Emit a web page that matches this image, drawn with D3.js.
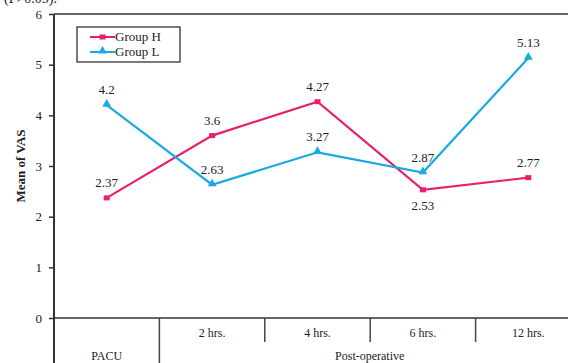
<!DOCTYPE html>
<html>
<head>
<meta charset="utf-8">
<script src="https://cdn.jsdelivr.net/npm/d3@7"></script>
<style>
  body { margin: 0; background: #fff; }
  svg text { font-family: "Times New Roman", "Liberation Serif", "DejaVu Serif", serif; fill: #222; }
</style>
</head>
<body>
<div class="graph"></div>
<script>
// datos
const categories = ['PACU', '2 hrs.', '4 hrs.', '6 hrs.', '12 hrs.']
const groupH = [2.37, 3.6, 4.27, 2.53, 2.77]
const groupL = [4.2, 2.63, 3.27, 2.87, 5.13]
// posicion de la etiqueta: -1 arriba, 1 abajo
const labelPosH = [-1, -1, -1, 1, -1]
const labelPosL = [-1, -1, -1, -1, -1]
const yTicks = [0, 1, 2, 3, 4, 5, 6]

const colorH = '#ea1e6d', colorL = '#1aa9e1'

let width = 568, height = 363
const mLeft = 54, mTop = 14, mBottom = 318

const svg = d3.select('.graph')
              .append('svg')
              .attr('width', width)
              .attr('height', height)

// texto cortado de arriba
svg.append('text').text('(P>0.05).')
  .attr('x', 4).attr('y', 3)
  .style('font-size', '14px')

const xScale = d3.scaleBand().domain(categories).range([mLeft, 581])
const yScale = d3.scaleLinear().domain([0, 6]).range([mBottom, mTop])

// borde superior
svg.append('line')
  .attr('x1', mLeft).attr('x2', width)
  .attr('y1', mTop).attr('y2', mTop)
  .attr('stroke', '#333').attr('stroke-width', 1.5)

// eje y
const yAxis = d3.axisLeft(yScale).tickValues(yTicks).tickFormat(d3.format('d')).tickSize(5).tickPadding(7)
const gy = svg.append('g').attr('transform', `translate(${mLeft},0)`).call(yAxis)
gy.attr('font-family', null)
gy.select('.domain').remove()
gy.selectAll('.tick line').attr('stroke', '#333').attr('stroke-width', 1.5)
gy.selectAll('.tick text').style('font-size', '13px').attr('fill', '#222')

svg.append('line')
  .attr('x1', mLeft).attr('x2', mLeft)
  .attr('y1', mTop).attr('y2', height)
  .attr('stroke', '#333').attr('stroke-width', 2)

// eje x
svg.append('line')
  .attr('x1', mLeft).attr('x2', width)
  .attr('y1', mBottom).attr('y2', mBottom)
  .attr('stroke', '#333').attr('stroke-width', 1.5)

categories.slice(1).forEach((c, i) => {
  svg.append('line')
    .attr('x1', xScale(c)).attr('x2', xScale(c))
    .attr('y1', mBottom).attr('y2', i === 0 ? height : mBottom + 24)
    .attr('stroke', '#444').attr('stroke-width', 1.5)
})

categories.forEach((c, i) => {
  svg.append('text').text(c)
    .attr('x', xScale(c) + xScale.bandwidth() / 2)
    .attr('y', i === 0 ? 360 : 337)
    .attr('text-anchor', 'middle')
    .style('font-size', '12px')
})

svg.append('text').text('Post-operative')
  .attr('x', (xScale(categories[1]) + width + 12) / 2)
  .attr('y', 360)
  .attr('text-anchor', 'middle')
  .style('font-size', '12px')

// titulo eje y
svg.append('text').text('Mean of VAS')
  .attr('transform', `translate(25,${(mTop + mBottom) / 2}) rotate(-90)`)
  .attr('text-anchor', 'middle')
  .style('font-size', '13px')
  .style('font-weight', 'bold')

const cx = c => xScale(c) + xScale.bandwidth() / 2
const line = d3.line().x((d, i) => cx(categories[i])).y(d => yScale(d))

const triangle = d3.symbol().type(d3.symbolTriangle).size(34)

function drawSeries(values, color, marker, pos) {
  svg.append('path').datum(values)
    .attr('d', line)
    .attr('fill', 'none')
    .attr('stroke', color)
    .attr('stroke-width', 2.2)

  const g = svg.append('g')
  values.forEach((v, i) => {
    const x = cx(categories[i]), y = yScale(v)
    if (marker === 'square') {
      g.append('rect').attr('x', x - 3).attr('y', y - 2.5).attr('width', 6).attr('height', 5).attr('fill', color)
    } else {
      g.append('path').attr('d', triangle).attr('transform', `translate(${x},${y - 1})`).attr('fill', color)
    }
    svg.append('text').text(v)
      .attr('x', x)
      .attr('y', pos[i] < 0 ? y - 11 : y + 20)
      .attr('text-anchor', 'middle')
      .style('font-size', '13px')
  })
}

drawSeries(groupH, colorH, 'square', labelPosH)
drawSeries(groupL, colorL, 'triangle', labelPosL)

// leyenda
const legend = svg.append('g')
legend.append('rect')
  .attr('x', 77).attr('y', 27).attr('width', 103).attr('height', 35)
  .attr('fill', '#fff').attr('stroke', '#333').attr('stroke-width', 1.3)

const items = [['Group H', colorH, 'square'], ['Group L', colorL, 'triangle']]
items.forEach((it, i) => {
  const y = 37 + i * 15
  legend.append('line').attr('x1', 90).attr('x2', 115).attr('y1', y).attr('y2', y)
    .attr('stroke', it[1]).attr('stroke-width', 2)
  if (it[2] === 'square') {
    legend.append('rect').attr('x', 99.5).attr('y', y - 2.5).attr('width', 6).attr('height', 5).attr('fill', it[1])
  } else {
    legend.append('path').attr('d', triangle).attr('transform', `translate(102.5,${y - 1})`).attr('fill', it[1])
  }
  legend.append('text').text(it[0]).attr('x', 115).attr('y', y + 4).style('font-size', '13px')
})
</script>
</body>
</html>
